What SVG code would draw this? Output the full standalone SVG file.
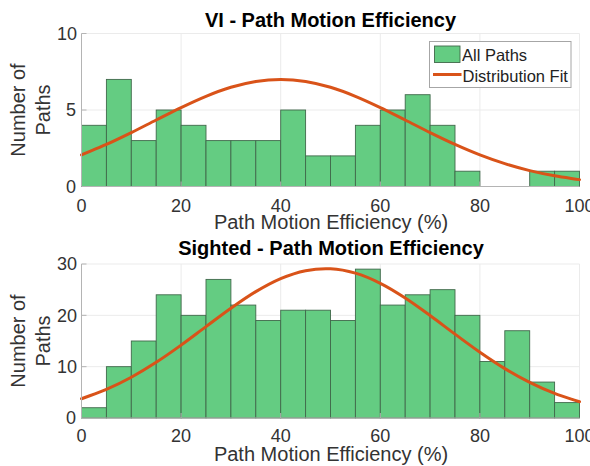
<svg xmlns="http://www.w3.org/2000/svg" width="590" height="466" viewBox="0 0 590 466">
<style>
.grid{stroke:#ebebeb;stroke-width:1;fill:none}
.axis{stroke:#b4b4b4;stroke-width:1;fill:none}
.bar{fill:#64cc82;stroke:#40684b;stroke-width:0.9}
.fit{fill:none;stroke:#d95319;stroke-width:3;stroke-linejoin:round;stroke-linecap:round}
.tick{font-family:"Liberation Sans",Arial,sans-serif;font-size:18px;fill:#333333}
.lab{font-family:"Liberation Sans",Arial,sans-serif;font-size:20px;fill:#333333}
.title{font-family:"Liberation Sans",Arial,sans-serif;font-size:20px;font-weight:bold;fill:#000000;text-anchor:middle}
.leg{font-family:"Liberation Sans",Arial,sans-serif;font-size:16.5px;fill:#222222}
</style>
<rect width="590" height="466" fill="#ffffff"/>

<g id="top-plot">
  <g id="top-grid">
    <path class="grid" d="M81.5,33.5H579.5M81.5,110H579.5M181.1,33.5V186.5M280.7,33.5V186.5M380.3,33.5V186.5M479.9,33.5V186.5M579.5,33.5V186.5"/>
  </g>
  <g id="top-bars">
    <rect class="bar" x="81.5" y="125.3" width="24.9" height="61.2"/>
    <rect class="bar" x="106.4" y="79.4" width="24.9" height="107.1"/>
    <rect class="bar" x="131.3" y="140.6" width="24.9" height="45.9"/>
    <rect class="bar" x="156.2" y="110" width="24.9" height="76.5"/>
    <rect class="bar" x="181.1" y="125.3" width="24.9" height="61.2"/>
    <rect class="bar" x="206" y="140.6" width="24.9" height="45.9"/>
    <rect class="bar" x="230.9" y="140.6" width="24.9" height="45.9"/>
    <rect class="bar" x="255.8" y="140.6" width="24.9" height="45.9"/>
    <rect class="bar" x="280.7" y="110" width="24.9" height="76.5"/>
    <rect class="bar" x="305.6" y="155.9" width="24.9" height="30.6"/>
    <rect class="bar" x="330.5" y="155.9" width="24.9" height="30.6"/>
    <rect class="bar" x="355.4" y="125.3" width="24.9" height="61.2"/>
    <rect class="bar" x="380.3" y="110" width="24.9" height="76.5"/>
    <rect class="bar" x="405.2" y="94.7" width="24.9" height="91.8"/>
    <rect class="bar" x="430.1" y="125.3" width="24.9" height="61.2"/>
    <rect class="bar" x="455" y="171.2" width="24.9" height="15.3"/>
    <rect class="bar" x="529.7" y="171.2" width="24.9" height="15.3"/>
    <rect class="bar" x="554.6" y="171.2" width="24.9" height="15.3"/>
  </g>
  <path id="top-fit" class="fit" d="M81.5,154.9 C89.8,151.41 98.1,148.16 106.4,144.44 S123,136.68 131.3,132.61 S147.9,124.18 156.2,120.01 S172.8,111.52 181.1,107.57 S197.7,99.68 206,96.3 S222.6,89.75 230.9,87.27 S247.5,82.73 255.8,81.42 S272.4,79.4 280.7,79.4 S297.3,80.11 305.6,81.42 S322.2,84.79 330.5,87.27 S347.1,92.92 355.4,96.3 S372,103.62 380.3,107.57 S396.9,115.84 405.2,120.01 S421.8,128.54 430.1,132.61 S446.7,140.73 455,144.44 S471.6,151.7 479.9,154.9 S496.5,161.03 504.8,163.65 S521.4,168.57 529.7,170.6 S546.3,174.35 554.6,175.85 S571.2,178.37 579.5,179.63"/>
  <g id="top-axes">
    <path class="axis" d="M81.5,33.5V186.5H579.5M81.5,110H86.5M81.5,33.5H86.5M181.1,186.5V181.5M280.7,186.5V181.5M380.3,186.5V181.5M479.9,186.5V181.5"/>
    <text class="tick" x="76" y="192.5" text-anchor="end">0</text>
    <text class="tick" x="76" y="116" text-anchor="end">5</text>
    <text class="tick" x="77" y="39.5" text-anchor="end">10</text>
    <text class="tick" x="81.5" y="211.5" text-anchor="middle">0</text>
    <text class="tick" x="181.1" y="211.5" text-anchor="middle">20</text>
    <text class="tick" x="280.7" y="211.5" text-anchor="middle">40</text>
    <text class="tick" x="380.3" y="211.5" text-anchor="middle">60</text>
    <text class="tick" x="479.9" y="211.5" text-anchor="middle">80</text>
    <text class="tick" x="579.5" y="211.5" text-anchor="middle">100</text>
  </g>
  <text class="title" x="330.5" y="26.5">VI - Path Motion Efficiency</text>
  <text class="lab" x="331" y="228.5" text-anchor="middle">Path Motion Efficiency (%)</text>
  <text class="lab" transform="translate(25,110) rotate(-90)" text-anchor="middle">Number of</text>
  <text class="lab" transform="translate(49.5,110) rotate(-90)" text-anchor="middle">Paths</text>
</g>

<g id="legend">
  <rect x="429.5" y="41.5" width="141.5" height="46" fill="#ffffff" stroke="#a6a6a6" stroke-width="1"/>
  <rect class="bar" x="434.5" y="46" width="25.5" height="16.5"/>
  <text class="leg" x="462" y="60.5">All Paths</text>
  <path d="M433,74.5H461.5" stroke="#d95319" stroke-width="3"/>
  <text class="leg" x="462.5" y="82">Distribution Fit</text>
</g>

<g id="bottom-plot">
  <g id="bottom-grid">
    <path class="grid" d="M81.5,264H579.5M81.5,315.33H579.5M81.5,366.67H579.5M181.1,264V418M280.7,264V418M380.3,264V418M479.9,264V418M579.5,264V418"/>
  </g>
  <g id="bottom-bars">
    <rect class="bar" x="81.5" y="407.73" width="24.9" height="10.27"/>
    <rect class="bar" x="106.4" y="366.67" width="24.9" height="51.33"/>
    <rect class="bar" x="131.3" y="341" width="24.9" height="77"/>
    <rect class="bar" x="156.2" y="294.8" width="24.9" height="123.2"/>
    <rect class="bar" x="181.1" y="315.33" width="24.9" height="102.67"/>
    <rect class="bar" x="206" y="279.4" width="24.9" height="138.6"/>
    <rect class="bar" x="230.9" y="305.07" width="24.9" height="112.93"/>
    <rect class="bar" x="255.8" y="320.47" width="24.9" height="97.53"/>
    <rect class="bar" x="280.7" y="310.2" width="24.9" height="107.8"/>
    <rect class="bar" x="305.6" y="310.2" width="24.9" height="107.8"/>
    <rect class="bar" x="330.5" y="320.47" width="24.9" height="97.53"/>
    <rect class="bar" x="355.4" y="269.13" width="24.9" height="148.87"/>
    <rect class="bar" x="380.3" y="305.07" width="24.9" height="112.93"/>
    <rect class="bar" x="405.2" y="294.8" width="24.9" height="123.2"/>
    <rect class="bar" x="430.1" y="289.67" width="24.9" height="128.33"/>
    <rect class="bar" x="455" y="315.33" width="24.9" height="102.67"/>
    <rect class="bar" x="479.9" y="361.53" width="24.9" height="56.47"/>
    <rect class="bar" x="504.8" y="330.73" width="24.9" height="87.27"/>
    <rect class="bar" x="529.7" y="382.07" width="24.9" height="35.93"/>
    <rect class="bar" x="554.6" y="402.6" width="24.9" height="15.4"/>
  </g>
  <path id="bottom-fit" class="fit" d="M81.5,398.77 C89.8,395.65 98.1,392.99 106.4,389.4 S123,381.74 131.3,377.23 S147.9,367.68 156.2,362.33 S172.8,351.1 181.1,345.15 S197.7,332.8 206,326.65 S222.6,314.08 230.9,308.25 S247.5,296.59 255.8,291.65 S272.4,282.11 280.7,278.61 S297.3,272.3 305.6,270.66 S322.2,268.35 330.5,268.76 S347.1,270.73 355.4,273.15 S372,279.16 380.3,283.29 S396.9,292.59 405.2,297.96 S421.8,309.47 430.1,315.5 S446.7,328.01 455,334.13 S471.6,346.5 479.9,352.24 S496.5,363.57 504.8,368.6 S521.4,378.3 529.7,382.44 S546.3,390.25 554.6,393.47 S571.2,399.02 579.5,401.79"/>
  <g id="bottom-axes">
    <path class="axis" d="M81.5,264V418H579.5M81.5,264H86.5M81.5,315.33H86.5M81.5,366.67H86.5M181.1,418V413M280.7,418V413M380.3,418V413M479.9,418V413"/>
    <text class="tick" x="76" y="424" text-anchor="end">0</text>
    <text class="tick" x="77" y="372.5" text-anchor="end">10</text>
    <text class="tick" x="77" y="321.5" text-anchor="end">20</text>
    <text class="tick" x="77" y="270" text-anchor="end">30</text>
    <text class="tick" x="81.5" y="442" text-anchor="middle">0</text>
    <text class="tick" x="181.1" y="442" text-anchor="middle">20</text>
    <text class="tick" x="280.7" y="442" text-anchor="middle">40</text>
    <text class="tick" x="380.3" y="442" text-anchor="middle">60</text>
    <text class="tick" x="479.9" y="442" text-anchor="middle">80</text>
    <text class="tick" x="579.5" y="442" text-anchor="middle">100</text>
  </g>
  <text class="title" x="331" y="254.5">Sighted - Path Motion Efficiency</text>
  <text class="lab" x="331" y="461" text-anchor="middle">Path Motion Efficiency (%)</text>
  <text class="lab" transform="translate(25,341) rotate(-90)" text-anchor="middle">Number of</text>
  <text class="lab" transform="translate(49.5,341) rotate(-90)" text-anchor="middle">Paths</text>
</g>
</svg>
